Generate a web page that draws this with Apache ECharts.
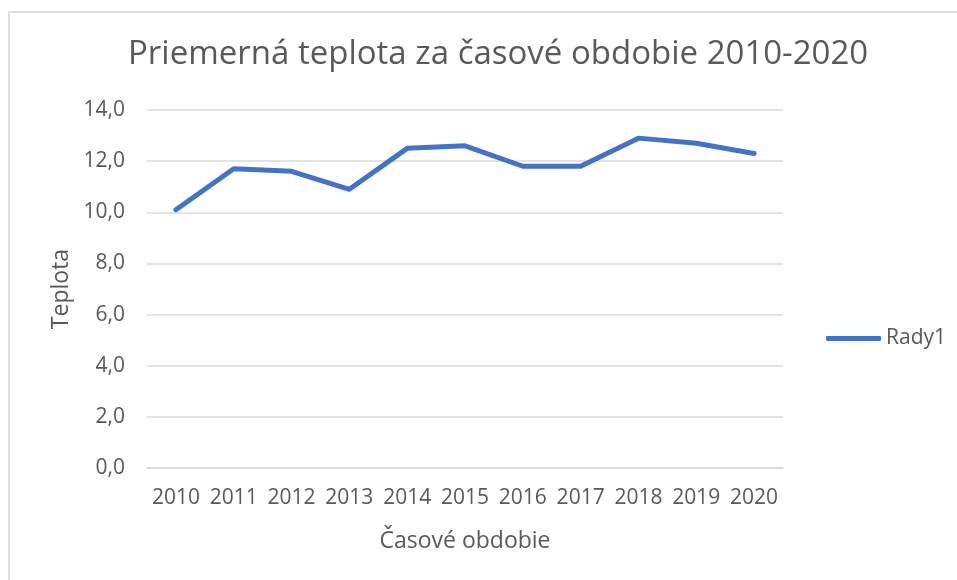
<!DOCTYPE html>
<html>
<head>
<meta charset="utf-8">
<script src="https://cdn.jsdelivr.net/npm/echarts@6/dist/echarts.min.js"></script>
<style>
	html, body { margin: 0; padding: 0; background: #fff; overflow: hidden; }
	.frame { position: absolute; left: 8px; top: 11px; width: 1000px; height: 1000px; border: 2px solid #dcdcdc; }
	.chart { position: absolute; left: 0; top: 0; width: 957px; height: 580px; }
</style>
</head>
<body>
<div class="frame"></div>
<div class="chart" id="chart"></div>
<script>
	var years = ['2010','2011','2012','2013','2014','2015','2016','2017','2018','2019','2020'];
	var rady1 = [10.1, 11.7, 11.6, 10.9, 12.5, 12.6, 11.8, 11.8, 12.9, 12.7, 12.3];
	var seriesName = 'Rady1';
	var titleText = 'Priemerná teplota za časové obdobie 2010-2020';

	var font = '"Open Sans", sans-serif';
	var grey = '#595959';

	var myChart = echarts.init(document.getElementById('chart'));
	var option = {
		animation: false,
		title: {
			text: titleText,
			left: 123,
			top: 33,
			textStyle: {
				color: grey,
				fontFamily: font,
				fontWeight: 'normal',
				fontSize: 33
			}
		},
		legend: {
			data: [seriesName],
			left: 821,
			top: 323,
			itemWidth: 55,
			itemHeight: 5,
			itemGap: 5,
			icon: 'roundRect',
			textStyle: {
				color: grey,
				fontFamily: font,
				fontSize: 21
			}
		},
		grid: {
			left: 147,
			right: 174,
			top: 110,
			bottom: 112
		},
		xAxis: {
			type: 'category',
			data: years,
			boundaryGap: true,
			name: 'Časové obdobie',
			nameLocation: 'middle',
			nameGap: 62,
			nameTextStyle: {
				color: grey,
				fontFamily: font,
				fontSize: 23
			},
			axisLine: { lineStyle: { color: '#d9d9d9', width: 1.5 } },
			axisTick: { show: false },
			axisLabel: {
				color: grey,
				fontFamily: font,
				fontSize: 21,
				margin: 20,
				interval: 0
			}
		},
		yAxis: {
			type: 'value',
			min: 0,
			max: 14,
			interval: 2,
			name: 'Teplota',
			nameLocation: 'middle',
			nameGap: 74,
			nameTextStyle: {
				color: grey,
				fontFamily: font,
				fontSize: 23
			},
			axisLine: { show: false },
			axisTick: { show: false },
			splitLine: { lineStyle: { color: '#d9d9d9', width: 1.5 } },
			axisLabel: {
				color: grey,
				fontFamily: font,
				fontSize: 21,
				margin: 22,
				formatter: function(v) { return v.toFixed(1).replace('.', ','); }
			}
		},
		series: [{
			name: seriesName,
			type: 'line',
			data: rady1,
			symbol: 'none',
			color: '#4472c4',
			lineStyle: { width: 5, cap: 'round', join: 'round' }
		}]
	};
	myChart.setOption(option);
</script>
</body>
</html>
